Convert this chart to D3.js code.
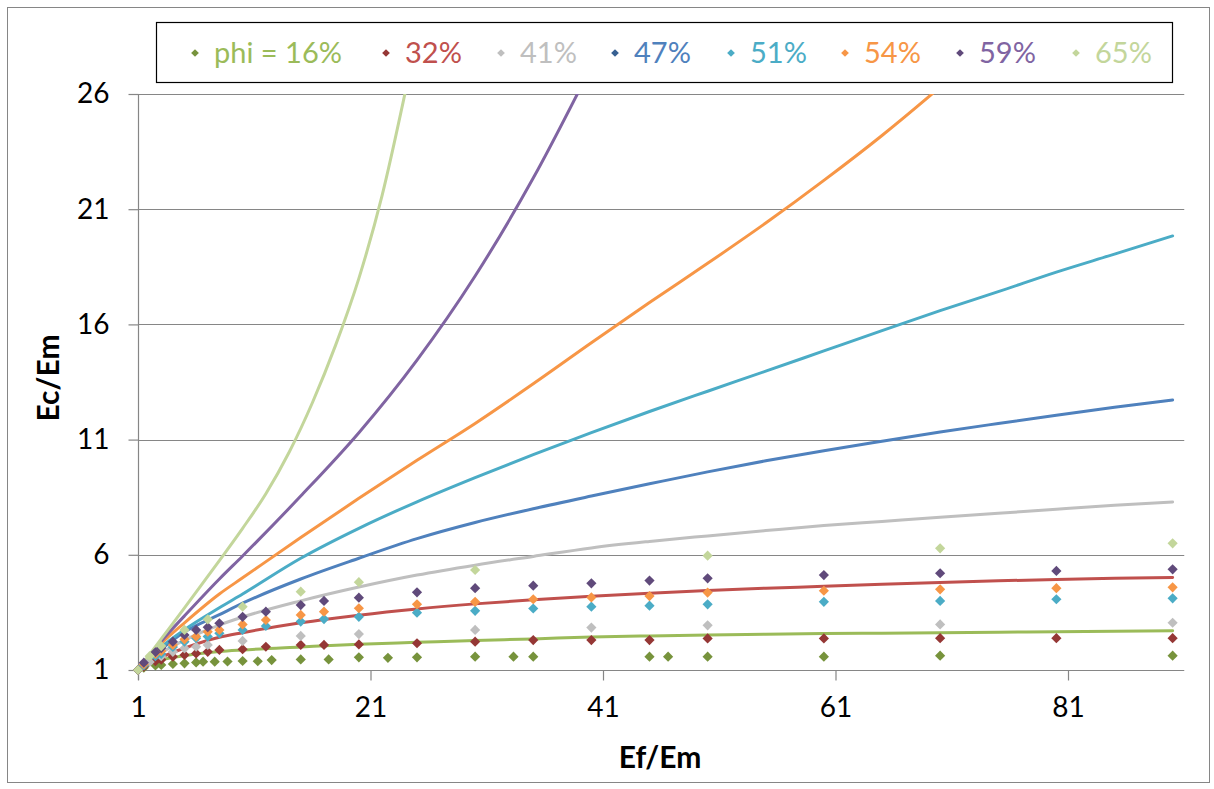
<!DOCTYPE html>
<html><head><meta charset="utf-8">
<script src="https://cdn.jsdelivr.net/npm/d3@7"></script>
<style>
html,body{margin:0;padding:0;background:#fff;}
svg{display:block;}
text{font-family:Lato,"Open Sans",sans-serif;}
</style></head>
<body>
<svg id="chart" width="1214" height="789"></svg>
<script>
// ---------- data ----------
const seriesNames = ["phi = 16%", "32%", "41%", "47%", "51%", "54%", "59%", "65%"];
const lineColors   = ["#9BBB59", "#C0504D", "#BFBFBF", "#4F81BD", "#4BACC6", "#F79646", "#8064A2", "#C3D69B"];
const markerColors = ["#77933C", "#953735", "#BFBFBF", "#376092", "#4BACC6", "#F79646", "#604A7B", "#C3D69B"];

const xTicks = [1, 21, 41, 61, 81];
const yTicks = [1, 6, 11, 16, 21, 26];

// theoretical curves
const lineX  = [1, 3, 5, 8, 10, 15, 20, 25, 30, 35, 40, 45, 50, 55, 60, 65, 70, 75, 80, 85, 90];
const line16 = [1, 1.43, 1.62, 1.8, 1.87, 2.0, 2.12, 2.2, 2.28, 2.35, 2.43, 2.48, 2.52, 2.55, 2.58, 2.6, 2.62, 2.64, 2.66, 2.68, 2.7];
const line32 = [1, 1.55, 1.95, 2.42, 2.62, 3.05, 3.38, 3.65, 3.87, 4.05, 4.2, 4.33, 4.45, 4.55, 4.63, 4.72, 4.8, 4.87, 4.93, 4.98, 5.02];
const line41 = [1, 1.75, 2.3, 2.95, 3.3, 4.0, 4.6, 5.12, 5.55, 5.93, 6.3, 6.58, 6.82, 7.05, 7.27, 7.45, 7.63, 7.8, 7.98, 8.15, 8.29];
const line47 = [1, 1.9, 2.65, 3.4, 3.9, 4.95, 5.85, 6.7, 7.4, 8.0, 8.55, 9.08, 9.6, 10.08, 10.52, 10.93, 11.33, 11.7, 12.06, 12.4, 12.72];
const line51 = [1, 2.0, 2.75, 3.7, 4.3, 5.85, 7.15, 8.3, 9.35, 10.35, 11.3, 12.22, 13.1, 13.97, 14.85, 15.73, 16.6, 17.42, 18.27, 19.05, 19.84];
const line54X = [1, 3, 5, 8, 10, 15, 20, 25, 30, 35, 40, 45, 50, 55, 60, 65, 70, 75];
const line54 = [1, 2.15, 3.05, 4.3, 5.0, 6.75, 8.45, 10.1, 11.7, 13.42, 15.2, 16.95, 18.65, 20.4, 22.25, 24.2, 26.3, 28.5];
const line59X = [1, 3, 5, 8, 10, 15, 20, 25, 30, 35, 40];
const line59 = [1, 2.25, 3.35, 4.95, 5.95, 8.55, 11.3, 14.45, 18.1, 22.35, 27.2];
const line65X = [1, 3, 5, 8, 10, 12, 14, 16, 18, 20, 22, 24, 25];
const line65 = [1, 2.35, 3.7, 5.75, 7.15, 8.65, 10.45, 12.6, 15.1, 18.0, 21.6, 26.1, 28.5];

// measured points
const ptsXA = [1, 1.5, 2.5, 3, 4, 5, 6, 7, 8, 10, 12, 15, 17, 20, 25, 30, 35, 40, 45, 50, 60, 70, 80, 90];
const pts16X = [1, 1.5, 2.5, 3, 4, 5, 6, 6.6, 7.6, 8.7, 10, 11.3, 12.5, 15, 17.4, 20, 22.5, 25, 30, 33.3, 35, 45, 46.6, 50, 60, 70, 90];
const pts16 = [1, 1.1, 1.2, 1.22, 1.26, 1.29, 1.33, 1.36, 1.36, 1.37, 1.39, 1.38, 1.43, 1.46, 1.46, 1.55, 1.53, 1.55, 1.58, 1.58, 1.58, 1.58, 1.58, 1.58, 1.58, 1.62, 1.62];
const pts32 = [1, 1.15, 1.38, 1.45, 1.58, 1.65, 1.72, 1.79, 1.87, 1.9, 2.01, 2.09, 2.09, 2.11, 2.16, 2.23, 2.3, 2.3, 2.3, 2.37, 2.37, 2.38, 2.38, 2.38];
const pts41X = [1, 2, 3, 4, 5, 6, 7, 10, 15, 20, 30, 40, 50, 70, 90];
const pts41 = [1, 1.35, 1.6, 1.79, 1.94, 2.01, 2.09, 2.26, 2.48, 2.56, 2.74, 2.84, 2.94, 2.98, 3.05];
const pts47X = [];
const pts47 = [];
const pts51 = [1, 1.2, 1.6, 1.7, 2.0, 2.23, 2.38, 2.45, 2.59, 2.74, 2.91, 3.1, 3.21, 3.31, 3.49, 3.57, 3.67, 3.75, 3.79, 3.85, 3.96, 4.0, 4.07, 4.11];
const pts54 = [1, 1.25, 1.7, 1.82, 2.09, 2.33, 2.45, 2.66, 2.74, 2.98, 3.17, 3.39, 3.53, 3.68, 3.85, 3.96, 4.07, 4.15, 4.21, 4.36, 4.44, 4.5, 4.55, 4.59];
const pts59 = [1, 1.32, 1.77, 1.95, 2.23, 2.52, 2.74, 2.86, 3.03, 3.31, 3.53, 3.82, 4.0, 4.14, 4.37, 4.55, 4.66, 4.76, 4.88, 4.98, 5.12, 5.2, 5.3, 5.37];
const pts65X = [1, 2, 3, 5, 7, 10, 15, 20, 30, 50, 70, 90];
const pts65 = [1, 1.6, 2.04, 2.74, 3.2, 3.75, 4.40, 4.81, 5.34, 5.96, 6.28, 6.5];

// ---------- assemble ----------
const lines = [
  [lineX, line16], [lineX, line32], [lineX, line41], [lineX, line47],
  [lineX, line51], [line54X, line54], [line59X, line59], [line65X, line65]
];
const points = [
  [pts16X, pts16], [ptsXA, pts32], [pts41X, pts41], [pts47X, pts47],
  [ptsXA, pts51], [ptsXA, pts54], [ptsXA, pts59], [pts65X, pts65]
];
const zip = (xs, ys) => xs.map((x, i) => ({x, y: ys[i]}));

const svg = d3.select("#chart");
const x = d3.scaleLinear().domain([1, 91]).range([138, 1184.25]);
const y = d3.scaleLinear().domain([1, 26]).range([670, 94]);
const axisGray = "#868686";

// outer frame
svg.append("rect").attr("x", 7.5).attr("y", 7.5).attr("width", 1202).attr("height", 775)
  .attr("fill", "#fff").attr("stroke", axisGray).attr("stroke-width", 1);

// gridlines
svg.append("g").selectAll("line").data(yTicks.filter(d => d > 1)).join("line")
  .attr("x1", x(1)).attr("x2", x(91))
  .attr("y1", d => Math.round(y(d)) + 0.5).attr("y2", d => Math.round(y(d)) + 0.5)
  .attr("stroke", axisGray).attr("stroke-width", 1.2);

// axes
const xAxis = d3.axisBottom(x).tickValues(xTicks).tickSize(10).tickPadding(17);
const gx = svg.append("g").attr("transform", `translate(0,${y(1) + 0.5})`).call(xAxis);
const yAxis = d3.axisLeft(y).tickValues(yTicks).tickSize(10).tickPadding(19);
const gy = svg.append("g").attr("transform", `translate(${x(1) + 0.5},0)`).call(yAxis);
[gx, gy].forEach(g => {
  g.select(".domain").attr("stroke", axisGray).attr("stroke-width", 1.2);
  g.selectAll(".tick line").attr("stroke", axisGray).attr("stroke-width", 1.2);
  g.selectAll(".tick text").attr("fill", "#000").style("font-size", "28px").style("font-family", "Lato");
});
gx.select(".domain").attr("d", `M${x(1)},0H${x(91)}`);
gy.select(".domain").attr("d", `M0,${y(1) + 10}V${y(26)}`);

// clip for curves
svg.append("clipPath").attr("id", "plotclip").append("rect")
  .attr("x", x(1)).attr("y", y(26)).attr("width", x(91) - x(1)).attr("height", y(1) - y(26) + 5);

const lineGen = d3.line().x(d => x(d.x)).y(d => y(d.y)).curve(d3.curveMonotoneX);
const gl = svg.append("g").attr("clip-path", "url(#plotclip)");
gl.selectAll("path").data(lines.map((l, i) => ({data: zip(l[0], l[1]), i}))).join("path")
  .attr("d", d => lineGen(d.data))
  .attr("fill", "none").attr("stroke", d => lineColors[d.i]).attr("stroke-width", 3)
  .attr("stroke-linejoin", "round").attr("stroke-linecap", "round");

// markers
const diamond = d3.symbol().type(d3.symbolSquare).size(52);
points.forEach((p, i) => {
  svg.append("g").selectAll("path").data(zip(p[0], p[1])).join("path")
    .attr("d", diamond)
    .attr("transform", d => `translate(${x(d.x)},${y(d.y)}) rotate(45)`)
    .attr("fill", markerColors[i]);
});

// axis titles
svg.append("text").attr("x", 660).attr("y", 768).attr("text-anchor", "middle")
  .style("font-size", "30px").style("font-weight", "bold").text("Ef/Em");
svg.append("text").attr("transform", "translate(59,378) rotate(-90)").attr("text-anchor", "middle")
  .style("font-size", "30px").style("font-weight", "bold").text("Ec/Em");

// legend
svg.append("rect").attr("x", 156.5).attr("y", 22.5).attr("width", 1016).attr("height", 60)
  .attr("fill", "#fff").attr("stroke", "#000").attr("stroke-width", 1.2);
const legendX = [195, 386, 501, 615, 731, 845, 960, 1076];
const leg = svg.append("g");
seriesNames.forEach((name, i) => {
  leg.append("path").attr("d", d3.symbol().type(d3.symbolSquare).size(30))
    .attr("transform", `translate(${legendX[i]},53) rotate(45)`).attr("fill", markerColors[i]);
  leg.append("text").attr("x", legendX[i] + 19).attr("y", 63)
    .style("font-size", "29px").attr("fill", lineColors[i]).text(name);
});
</script>
</body></html>
